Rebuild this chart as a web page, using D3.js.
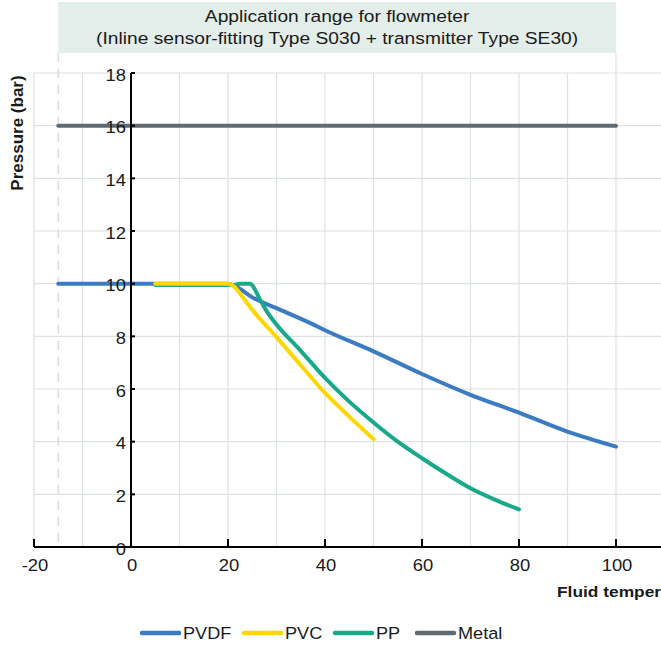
<!DOCTYPE html>
<html>
<head>
<meta charset="utf-8">
<script src="https://cdn.jsdelivr.net/npm/d3@7"></script>
<style>
  html, body { margin: 0; padding: 0; background: #fff; overflow: hidden; }
  svg { display: block; font-family: "Liberation Sans", Arial, Helvetica, sans-serif; }
</style>
</head>
<body>
<svg id="chart" width="661" height="647"></svg>
<script>
// ---- data ----
const titleLines = ["Application range for flowmeter", "(Inline sensor-fitting Type S030 + transmitter Type SE30)"];
const xTicks = [-20, 0, 20, 40, 60, 80, 100];
const yTicks = [0, 2, 4, 6, 8, 10, 12, 14, 16, 18];
const xGrid = [-20, -10, 0, 10, 20, 30, 40, 50, 60, 70, 80, 90, 100];
const seriesNames = ["PVDF", "PVC", "PP", "Metal"];
const seriesColors = ["#3a7bc2", "#fdd800", "#17a98a", "#5f6a71"];

const metal = [[-15, 16], [100, 16]];
const pvdf = [[-15, 10], [20, 10], [22, 9.85], [25, 9.48], [30, 9.07], [37, 8.5], [40, 8.23], [50, 7.43], [60, 6.57], [70, 5.78], [80, 5.1], [90, 4.38], [100, 3.81]];
const pvc = [[5, 10], [20, 10], [21, 9.93], [22.5, 9.62], [24, 9.25], [25.5, 8.9], [30, 7.97], [35, 6.9], [40, 5.85], [45, 4.95], [50, 4.1]];
const pp = [[5, 9.95], [21, 9.95], [22.5, 10], [24.5, 10], [26.6, 9.4], [28, 8.95], [30, 8.45], [35, 7.45], [40, 6.42], [45, 5.52], [50, 4.73], [55, 4.0], [60, 3.37], [65, 2.78], [70, 2.23], [75, 1.8], [80, 1.43]];

// ---- layout ----
const svg = d3.select("#chart");
const W = 661;
const x = d3.scaleLinear().domain([-20, 100]).range([34, 616]);
const y = d3.scaleLinear().domain([0, 18]).range([547, 73]);
const textColor = "#1a1a1a";
const gridColor = "#dde2e2";

// text helper: real text, slightly widened horizontally like the reference
function stxt(parent, px, py, str, size, anchor, sx, weight) {
  const g = parent.append("g").attr("transform", `translate(${px},${py}) scale(${sx},1)`);
  g.append("text")
    .attr("x", 0).attr("y", 0)
    .attr("text-anchor", anchor)
    .attr("font-size", size)
    .attr("font-weight", weight || "normal")
    .attr("fill", textColor)
    .text(str);
  return g;
}

// header box
const headerTop = 2, headerBottom = 53;
svg.append("rect")
  .attr("x", x(-15)).attr("y", headerTop)
  .attr("width", x(100) - x(-15)).attr("height", headerBottom - headerTop)
  .attr("fill", "#e3ede9");
const tg = svg.append("g");
titleLines.forEach((t, i) => stxt(tg, (x(-15) + x(100)) / 2, 21.5 + i * 22.5, t, 17, "middle", 1.13));

// horizontal grid
svg.append("g").selectAll("line").data(yTicks).enter().append("line")
  .attr("x1", x(-20)).attr("x2", W)
  .attr("y1", d => y(d)).attr("y2", d => y(d))
  .attr("stroke", gridColor).attr("stroke-width", 1.2);

// vertical grid
svg.append("g").selectAll("line").data(xGrid).enter().append("line")
  .attr("x1", d => x(d)).attr("x2", d => x(d))
  .attr("y1", d => d === 100 ? headerBottom : y(18)).attr("y2", y(0))
  .attr("stroke", gridColor).attr("stroke-width", 1.2);

// dashed limit line at -15
svg.append("line")
  .attr("x1", x(-15)).attr("x2", x(-15))
  .attr("y1", headerBottom).attr("y2", y(0))
  .attr("stroke", "#d3d9d9").attr("stroke-width", 1.3)
  .attr("stroke-dasharray", "9,7");

// series lines
const line = d3.line().x(d => x(d[0])).y(d => y(d[1])).curve(d3.curveMonotoneX);
const drawOrder = [
  { data: metal, color: seriesColors[3] },
  { data: pvdf, color: seriesColors[0] },
  { data: pp, color: seriesColors[2] },
  { data: pvc, color: seriesColors[1] }
];
drawOrder.forEach(s => {
  svg.append("path")
    .datum(s.data)
    .attr("d", line)
    .attr("fill", "none")
    .attr("stroke", s.color)
    .attr("stroke-width", 4)
    .attr("stroke-linecap", "round")
    .attr("stroke-linejoin", "round");
});

// y axis
svg.append("line")
  .attr("x1", x(0)).attr("x2", x(0))
  .attr("y1", y(18)).attr("y2", y(0))
  .attr("stroke", "#000").attr("stroke-width", 2);
svg.append("g").selectAll("line").data(yTicks).enter().append("line")
  .attr("x1", x(0)).attr("x2", x(0) + 4)
  .attr("y1", d => y(d)).attr("y2", d => y(d))
  .attr("stroke", "#000").attr("stroke-width", 2);
const yl = svg.append("g");
yTicks.forEach(d => stxt(yl, x(0) - 5, y(d) + 7.5, String(d), 16, "end", 1.15));

// x axis
svg.append("line")
  .attr("x1", x(-20)).attr("x2", W)
  .attr("y1", y(0)).attr("y2", y(0))
  .attr("stroke", "#000").attr("stroke-width", 2);
svg.append("g").selectAll("line").data(xTicks).enter().append("line")
  .attr("x1", d => x(d)).attr("x2", d => x(d))
  .attr("y1", y(0)).attr("y2", y(0) - 8)
  .attr("stroke", "#000").attr("stroke-width", 2);
const xl = svg.append("g");
xTicks.forEach(d => stxt(xl, x(d) + 1, y(0) + 24, String(d), 16, "middle", 1.15));

// axis titles
svg.append("text")
  .attr("transform", `translate(23, 133) rotate(-90)`)
  .attr("text-anchor", "middle")
  .attr("font-size", 17)
  .attr("font-weight", "bold")
  .attr("fill", textColor)
  .text("Pressure (bar)");
stxt(svg, 557, 597, "Fluid temperature (°C)", 15.5, "start", 1.12, "bold");

// legend
const legendX = [140, 242, 333, 415];
const legendY = 633;
const lg = svg.append("g");
seriesNames.forEach((name, i) => {
  const g = lg.append("g").attr("transform", `translate(${legendX[i]}, ${legendY})`);
  g.append("line")
    .attr("x1", 2).attr("x2", 39)
    .attr("y1", 0).attr("y2", 0)
    .attr("stroke", seriesColors[i])
    .attr("stroke-width", 4.5)
    .attr("stroke-linecap", "round");
  stxt(g, 43, 6, name, 16.5, "start", 1.1);
});
</script>
</body>
</html>
